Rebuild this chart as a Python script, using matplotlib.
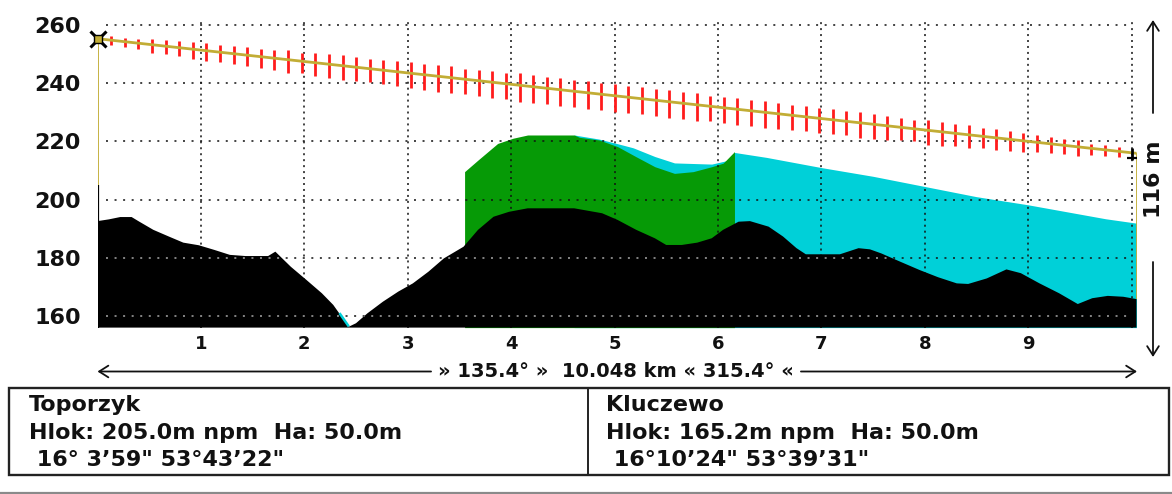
"""
Radio link terrain profile Toporzyk - Kluczewo.
Produces out.png (1172x494).
"""
import numpy as np
import matplotlib
matplotlib.use("Agg")
import matplotlib.pyplot as plt
from matplotlib.patches import Rectangle

# --- data -------------------------------------------------------------------
PATH_KM = 10.048

terrain_km = [0.00, 0.11, 0.22, 0.33, 0.40, 0.54, 0.69, 0.83, 0.98, 1.13,
              1.28, 1.43, 1.65, 1.72, 1.87, 2.02, 2.17, 2.28, 2.35, 2.43,
              2.50, 2.61, 2.76, 2.91, 3.05, 3.20, 3.35, 3.54, 3.68, 3.83,
              3.98, 4.16, 4.61, 4.88, 5.03, 5.21, 5.39, 5.50, 5.65, 5.80,
              5.94, 6.05, 6.20, 6.31, 6.49, 6.63, 6.76, 6.85, 7.18, 7.36,
              7.47, 7.58, 7.76, 7.95, 8.13, 8.31, 8.42, 8.60, 8.79, 8.93,
              9.11, 9.30, 9.48, 9.62, 9.77, 9.92, 10.048]
terrain_m = [192.6, 193.2, 194.0, 194.0, 192.5, 189.6, 187.3, 185.2, 184.3, 182.7,
             181.0, 180.6, 180.6, 182.1, 176.9, 172.4, 167.8, 163.8, 160.3, 156.3,
             157.5, 160.9, 164.9, 168.4, 171.2, 175.2, 179.8, 183.8, 189.6, 194.1,
             195.8, 197.0, 197.0, 195.3, 193.0, 189.6, 186.7, 184.4, 184.4, 185.2,
             186.7, 189.6, 192.4, 192.6, 190.7, 187.3, 183.3, 181.2, 181.2, 183.3,
             182.9, 181.5, 178.7, 175.8, 173.3, 171.2, 171.0, 172.9, 176.0, 174.7,
             171.2, 167.8, 164.1, 166.1, 166.9, 166.6, 165.8]

green_km = [3.55, 3.68, 3.87, 4.02, 4.16, 4.61, 4.66, 4.85, 5.03, 5.21,
            5.39, 5.58, 5.76, 5.94, 6.05, 6.16]
green_top = [209.6, 213.6, 219.3, 221.1, 222.2, 222.2, 221.4, 220.5, 218.2, 214.7,
             211.3, 209.0, 209.6, 211.3, 212.5, 216.5]

cyan_km = [4.61, 4.85, 5.03, 5.18, 5.39, 5.58, 5.94, 6.10, 6.16, 6.47,
           7.00, 7.50, 8.00, 8.50, 9.00, 9.50, 9.75, 10.048]
cyan_top = [222.2, 220.8, 219.2, 217.8, 214.8, 212.6, 212.2, 213.5, 216.2, 214.5,
            211.0, 208.0, 204.5, 201.0, 198.2, 195.0, 193.4, 191.9]

cyan_dip_km = [2.34, 2.43]
cyan_dip_m = [161.0, 156.4]

# antenna masts: ground and top (m npm)
mast_km = [0.0, PATH_KM]
mast_ground = [205.0, 165.8]
mast_top = [255.3, 215.9]

# red marks along the line of sight (length in m), evenly spaced
tick_len = [3.1, 3.2, 3.7, 4.8, 4.8, 5.2, 6.1, 5.9, 5.9, 6.1, 6.5, 6.6, 7.0, 7.7,
            6.9, 7.7, 8.0, 8.6, 8.0, 8.0, 8.4, 8.6, 8.9, 8.8, 9.2, 9.2, 8.7, 9.2,
            9.4, 8.8, 9.7, 9.4, 9.4, 9.5, 9.5, 9.7,
            9.5, 9.7, 9.3, 9.3, 9.4, 9.4, 9.5, 9.5, 8.8, 9.2, 9.2, 8.9, 9.2, 9.2,
            8.8, 8.6, 8.6, 8.6, 8.4, 8.9, 8.7, 8.2,
            7.7, 7.1, 8.6, 8.2, 7.8, 8.0, 7.1, 7.2, 6.9, 6.8, 5.9, 5.4, 5.3, 5.2,
            3.7, 3.8, 3.2]
tick_first_km, tick_last_km = 0.131, 9.876

y_ticks = [160, 180, 200, 220, 240, 260]
x_ticks = [1, 2, 3, 4, 5, 6, 7, 8, 9]

site_a = ["Toporzyk", "Hlok: 205.0m npm  Ha: 50.0m", " 16° 3’59\" 53°43’22\""]
site_b = ["Kluczewo", "Hlok: 165.2m npm  Ha: 50.0m", " 16°10’24\" 53°39’31\""]
dist_label = "» 135.4° »  10.048 km « 315.4° «"
height_label = "116 m"

# --- styling -----------------------------------------------------------------
YELLOW = "#c2ad35"
RED = "#ff1c1c"
GREEN = "#069a06"
CYAN = "#00d0d8"
INK = "#111111"

plt.rcParams["font.family"] = ["DejaVu Sans"]
plt.rcParams["font.weight"] = "bold"

W, H = 1172, 494
fig = plt.figure(figsize=(W / 100, H / 100), dpi=100)
fig.patch.set_facecolor("white")

# plot area in pixels: x 97.5..1136.5, y 22.1..327.6
ax = fig.add_axes([97.5 / W, (H - 327.6) / H, 1039 / W, 305.5 / H])
ax.set_xlim(0, PATH_KM)
ax.set_ylim(156.0, 261.0)
for s in ax.spines.values():
    s.set_visible(False)
ax.set_facecolor("none")

ax.set_yticks(y_ticks)
ax.set_yticklabels([str(v) for v in y_ticks], fontsize=16, fontweight="bold", color=INK)
ax.set_xticks(x_ticks)
ax.set_xticklabels([str(v) for v in x_ticks], fontsize=13, fontweight="bold", color=INK)
ax.tick_params(axis="y", length=0, pad=12)
ax.tick_params(axis="x", length=0, pad=5)

# clearance (cyan) and obstructed (green) zones
ax.fill_between(cyan_km, 156.0, cyan_top, color=CYAN, lw=0, zorder=1)
ax.fill_between(green_km, 156.0, green_top, color=GREEN, lw=0, zorder=1.5)

# dotted grid
hdots = (0, (1.3, 4.3))
vdots = (0, (1.3, 2.6))
for v in y_ticks:
    ax.plot([0.08, 10.0], [v, v], color=INK, lw=1.1, ls=hdots, zorder=2)
for v in x_ticks + [10]:
    ax.plot([v, v], [156.0, 261.0], color=INK, lw=1.1, ls=vdots, zorder=2)

# terrain
poly_x = [0.0] + terrain_km + [PATH_KM]
poly_y = [156.0] + terrain_m + [156.0]
terrain_patch = ax.fill(poly_x, poly_y, color="black", lw=0, zorder=3)[0]
for v in y_ticks:
    gl, = ax.plot([0.08, 10.0], [v, v], color="#a8a8a8", lw=1.1, ls=hdots, zorder=3.5)
    gl.set_clip_path(terrain_patch)
ax.plot(cyan_dip_km, cyan_dip_m, color=CYAN, lw=1.8, zorder=3.6, solid_capstyle="butt")

# masts
ax.vlines(mast_km[0], 156.0, mast_ground[0], color="black", lw=1.6, zorder=3.7)
ax.vlines(mast_km, mast_ground, mast_top, color=YELLOW, lw=1.3, zorder=4)

# line of sight with red marks
tick_km = np.linspace(tick_first_km, tick_last_km, len(tick_len))
los = np.interp(tick_km, mast_km, mast_top)
tl = np.array(tick_len)
ax.vlines(tick_km, los - 0.58 * tl, los + 0.42 * tl, color=RED, lw=2.0, zorder=4.5)
ax.plot(mast_km, mast_top, color=YELLOW, lw=2.0, zorder=5, solid_capstyle="butt")

# end markers
ax.plot(mast_km[0], mast_top[0], marker="x", ms=12, mew=2.2, color="black",
        zorder=6, clip_on=False)
ax.plot(mast_km[0], mast_top[0], marker="s", ms=6, mfc=YELLOW, mec="black",
        mew=1.0, zorder=7, clip_on=False)
ax.plot(mast_km[1] - 0.04, mast_top[1] - 0.3, marker="|", ms=9, mew=2.0,
        color="black", zorder=6, clip_on=False)
ax.plot(mast_km[1] - 0.04, mast_top[1] - 1.6, marker="_", ms=7, mew=1.6,
        color="black", zorder=6, clip_on=False)

# --- overlay in pixel coordinates for the surrounding annotations ------------
ov = fig.add_axes([0, 0, 1, 1], zorder=10)
ov.set_xlim(0, W)
ov.set_ylim(H, 0)
ov.axis("off")

arrow_kw = dict(arrowstyle="->,head_length=0.55,head_width=0.35", lw=1.3,
                color=INK, shrinkA=0, shrinkB=0, mutation_scale=12)

# distance / azimuth line
dist_txt = ov.text(616, 371.5, dist_label, ha="center", va="center",
                   fontsize=14, fontweight="bold", color=INK)
fig.canvas.draw()
bb = dist_txt.get_window_extent()
inv = ov.transData.inverted()
tx0 = inv.transform((bb.x0, bb.y0))[0]
tx1 = inv.transform((bb.x1, bb.y1))[0]
ov.annotate("", xy=(97.5, 371.5), xytext=(tx0 - 7, 371.5), arrowprops=arrow_kw)
ov.annotate("", xy=(1137, 371.5), xytext=(tx1 + 7, 371.5), arrowprops=arrow_kw)

# height span arrow at the right
ov.annotate("", xy=(1153, 20), xytext=(1153, 113), arrowprops=arrow_kw)
ov.annotate("", xy=(1153, 357), xytext=(1153, 262), arrowprops=arrow_kw)
ov.text(1154, 179, height_label, rotation=90, ha="center", va="center",
        fontsize=16, fontweight="bold", color=INK)

# site info box
ov.add_patch(Rectangle((8.5, 387.5), 1160.5, 87, fill=False, ec="#222222", lw=1.7))
ov.plot([587.5, 587.5], [387.5, 474.5], color="#222222", lw=1.4)
for x0, lines in ((29, site_a), (606, site_b)):
    for yb, s in zip((411, 438.5, 466), lines):
        ov.text(x0, yb, s, ha="left", va="baseline", fontsize=16,
                fontweight="bold", color=INK)

# window border at the bottom
ov.plot([0, W], [492.5, 492.5], color="#8a8a8a", lw=1.6)

fig.savefig("out.png", dpi=100, facecolor="white")
plt.close(fig)
